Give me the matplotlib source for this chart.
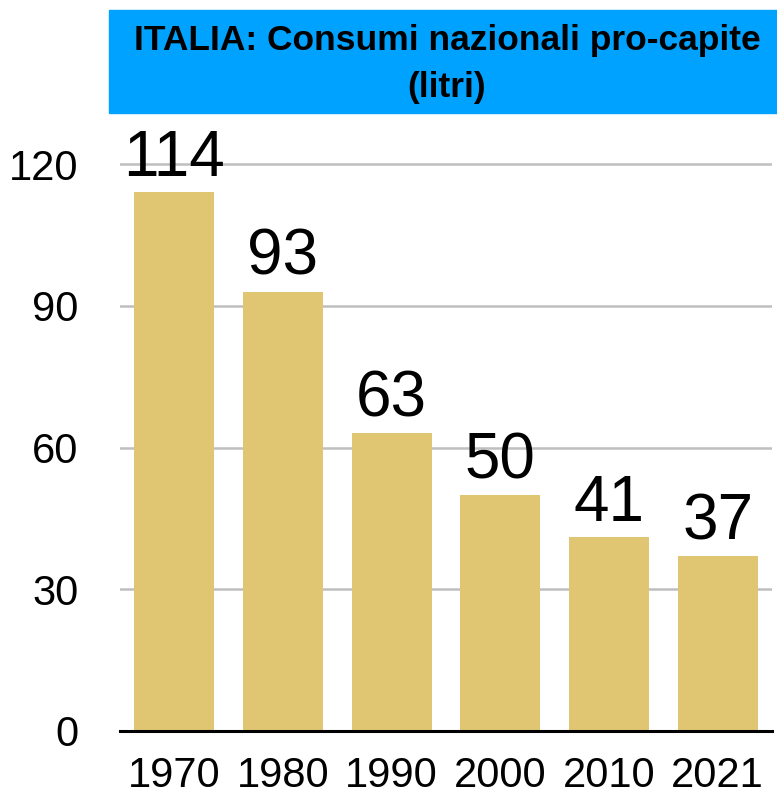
import matplotlib.pyplot as plt
from matplotlib.patches import Rectangle

anni = ['1970', '1980', '1990', '2000', '2010', '2021']
consumi = [114, 93, 63, 50, 41, 37]
y_ticks = [0, 30, 60, 90, 120]
titolo = "ITALIA: Consumi nazionali pro-capite\n(litri)"

plt.rcParams['font.family'] = ['Liberation Sans', 'DejaVu Sans']

fig = plt.figure(figsize=(7.77, 7.95), dpi=100)
ax = fig.add_axes([120 / 777, 64 / 795, 652 / 777, 618 / 795])

x = list(range(len(anni)))
ax.bar(x, consumi, width=0.735, color='#E0C673', zorder=2)

for xi, v in zip(x, consumi):
    ax.annotate(str(v), (xi, v), xytext=(0, 12), textcoords='offset points',
                ha='center', va='baseline', fontsize=46)

ax.set_xlim(-0.5, 5.5)
ax.set_ylim(0, 130.8)
ax.set_yticks(y_ticks)
ax.set_xticks(x)
ax.set_xticklabels(anni)
ax.tick_params(axis='both', length=0, labelsize=30)
ax.tick_params(axis='y', pad=30)
ax.tick_params(axis='x', pad=18)
for lab in ax.get_yticklabels():
    lab.set_horizontalalignment('right')

ax.yaxis.grid(True, color='#BFBFBF', linewidth=1.8, zorder=0)
ax.set_axisbelow(True)
for s in ['top', 'right', 'left']:
    ax.spines[s].set_visible(False)
ax.spines['bottom'].set_linewidth(2.2)
ax.spines['bottom'].set_color('black')
ax.spines['bottom'].set_zorder(3)

# box del titolo
fig.patches.append(Rectangle((109 / 777, 1 - 113 / 795), 668 / 777, 103 / 795,
                             transform=fig.transFigure, color='#00A2FF', zorder=0))
fig.text(447 / 777, 1 - 64 / 795, titolo, ha='center', va='center',
         fontsize=25.5, fontweight='bold', linespacing=1.55)

plt.savefig('out.png', dpi=100)
